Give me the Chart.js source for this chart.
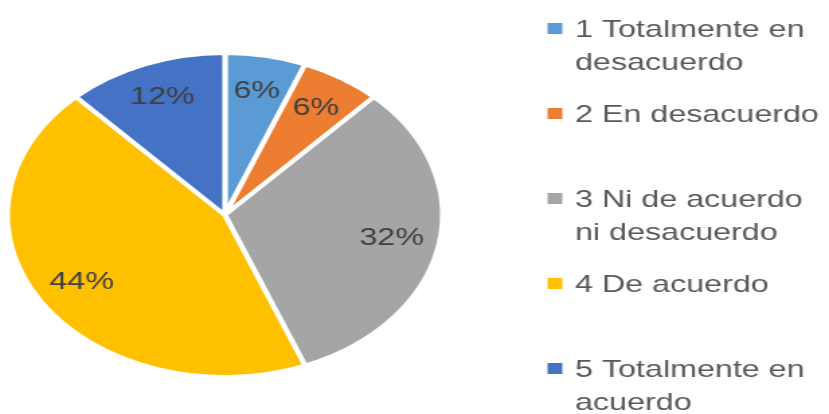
<!DOCTYPE html>
<html>
<head>
<meta charset="utf-8">
<script src="https://cdn.jsdelivr.net/npm/chart.js@4.4.0/dist/chart.umd.min.js"></script>
<style>
    html, body { margin: 0; padding: 0; background: #ffffff; overflow: hidden; }
    /* el gráfico original está estirado en horizontal */
    #wrap { width: 617px; height: 414px; transform: scaleX(1.3436); transform-origin: 0 0; }
</style>
</head>
<body>
<div id="wrap"><canvas id="pieChart"></canvas></div>
<script>
const categories = [
    ['1 Totalmente en', 'desacuerdo'],
    ['2 En desacuerdo'],
    ['3 Ni de acuerdo', 'ni desacuerdo'],
    ['4 De acuerdo'],
    ['5 Totalmente en', 'acuerdo']
];
const percentages = [6, 6, 32, 44, 12];
const sliceColors = ['#5B9BD5', '#ED7D31', '#A5A5A5', '#FFC000', '#4472C4'];

const FONT = '"Liberation Sans", Arial, sans-serif';

// etiquetas de porcentaje dentro de cada sector
const sliceLabels = {
    id: 'sliceLabels',
    afterDatasetsDraw(chart) {
        const ctx = chart.ctx;
        const arcs = chart.getDatasetMeta(0).data;
        ctx.save();
        ctx.font = '24px ' + FONT;
        ctx.fillStyle = '#404040';
        ctx.textAlign = 'center';
        ctx.textBaseline = 'middle';
        arcs.forEach((arc, i) => {
            const mid = (arc.startAngle + arc.endAngle) / 2;
            const r = arc.outerRadius * 0.78;
            ctx.fillText(percentages[i] + '%', arc.x + Math.cos(mid) * r, arc.y + Math.sin(mid) * r);
        });
        ctx.restore();
    }
};

// leyenda a la derecha, entradas con separación fija
const sideLegend = {
    id: 'sideLegend',
    afterDraw(chart) {
        const ctx = chart.ctx;
        ctx.save();
        ctx.font = '24px ' + FONT;
        ctx.textBaseline = 'alphabetic';
        ctx.textAlign = 'left';
        categories.forEach((lines, i) => {
            const base = 37 + 85 * i;
            ctx.fillStyle = sliceColors[i];
            ctx.fillRect(407.5, base - 14, 11, 11);
            ctx.fillStyle = '#595959';
            lines.forEach((txt, j) => {
                ctx.fillText(txt, 428, base + 33 * j);
            });
        });
        ctx.restore();
    }
};

new Chart(document.getElementById('pieChart'), {
    type: 'pie',
    data: {
        labels: categories.map(l => l.join(' ')),
        datasets: [{
            data: percentages,
            backgroundColor: sliceColors,
            borderColor: '#ffffff',
            borderWidth: 4
        }]
    },
    options: {
        responsive: true,
        maintainAspectRatio: false,
        animation: false,
        layout: {
            padding: { left: 3.4, top: 51, right: 285.6, bottom: 35 }
        },
        plugins: {
            legend: { display: false },
            tooltip: { enabled: false }
        }
    },
    plugins: [sliceLabels, sideLegend]
});
</script>
</body>
</html>
